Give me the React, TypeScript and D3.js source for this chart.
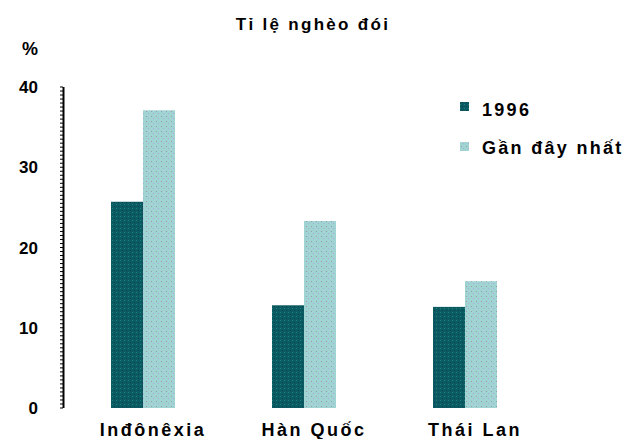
import React from "react";
import * as d3 from "d3";

const categories = ["Inđônêxia", "Hàn Quốc", "Thái Lan"];
const seriesNames = ["1996", "Gần đây nhất"];
const values1996 = [25.7, 12.8, 12.6];
const valuesRecent = [37.1, 23.3, 15.8];
const yTicks = [0, 10, 20, 30, 40];

const W = 628;
const H = 439;

export default function App() {
  const y = d3.scaleLinear().domain([0, 40]).range([408, 87]);
  const x0 = d3.scaleBand<string>().domain(categories).range([62.5, 545.5]).padding(0);
  const x1 = d3.scaleBand<string>().domain(seriesNames).range([-32, 32]).padding(0);
  const minor = d3.range(0, 40.01, 0.5);
  const data = [values1996, valuesRecent];
  const fills = ["url(#pDark)", "url(#pLight)"];
  const font = "Arial, 'Liberation Sans', sans-serif";
  return (
    <svg width={W} height={H} style={{ position: "absolute", left: 0, top: 0, background: "#fff" }} fontFamily={font}>
      <defs>
        <pattern id="pDark" width={4} height={4} patternUnits="userSpaceOnUse">
          <rect width={4} height={4} fill="#0b5c62" />
          <rect x={0} y={0} width={1} height={1} fill="#1f7f7a" />
          <rect x={2} y={2} width={1} height={1} fill="#0f3f55" />
        </pattern>
        <pattern id="pLight" width={5} height={5} patternUnits="userSpaceOnUse">
          <rect width={5} height={5} fill="#9fd4d2" />
          <rect x={1} y={1} width={1} height={1} fill="#9a9aa8" />
          <rect x={3} y={3} width={1} height={1} fill="#b2a6de" />
        </pattern>
      </defs>
      <text x={313} y={30} textAnchor="middle" fontSize={17} fontWeight="bold" letterSpacing={2.3}>Tỉ lệ nghèo đói</text>
      <text x={30} y={55} textAnchor="middle" fontSize={18} fontWeight="bold">%</text>
      {yTicks.map((t) => (
        <text key={t} x={38} y={y(t) + 6} textAnchor="end" fontSize={17} fontWeight="bold">{t}</text>
      ))}
      <line x1={63.5} x2={63.5} y1={y(40)} y2={y(0)} stroke="#000" strokeWidth={2} />
      {minor.map((t) => (
        <line key={t} x1={60} x2={63} y1={y(t)} y2={y(t)} stroke="#000" strokeWidth={1} />
      ))}
      {categories.map((c, i) => {
        const cx = (x0(c) as number) + x0.bandwidth() / 2;
        return (
          <g key={c}>
            {seriesNames.map((s, j) => (
              <rect
                key={s}
                x={cx + (x1(s) as number)}
                y={y(data[j][i])}
                width={x1.bandwidth()}
                height={y(0) - y(data[j][i])}
                fill={fills[j]}
              />
            ))}
            <text x={cx + 10} y={436} textAnchor="middle" fontSize={18} fontWeight="bold" letterSpacing={2.5}>{c}</text>
          </g>
        );
      })}
      {seriesNames.map((s, j) => (
        <g key={s}>
          <rect x={460} y={102 + j * 40} width={9} height={9} fill={fills[j]} />
          <text x={482} y={116 + j * 38} fontSize={18} fontWeight="bold" letterSpacing={2.3}>{s}</text>
        </g>
      ))}
    </svg>
  );
}
